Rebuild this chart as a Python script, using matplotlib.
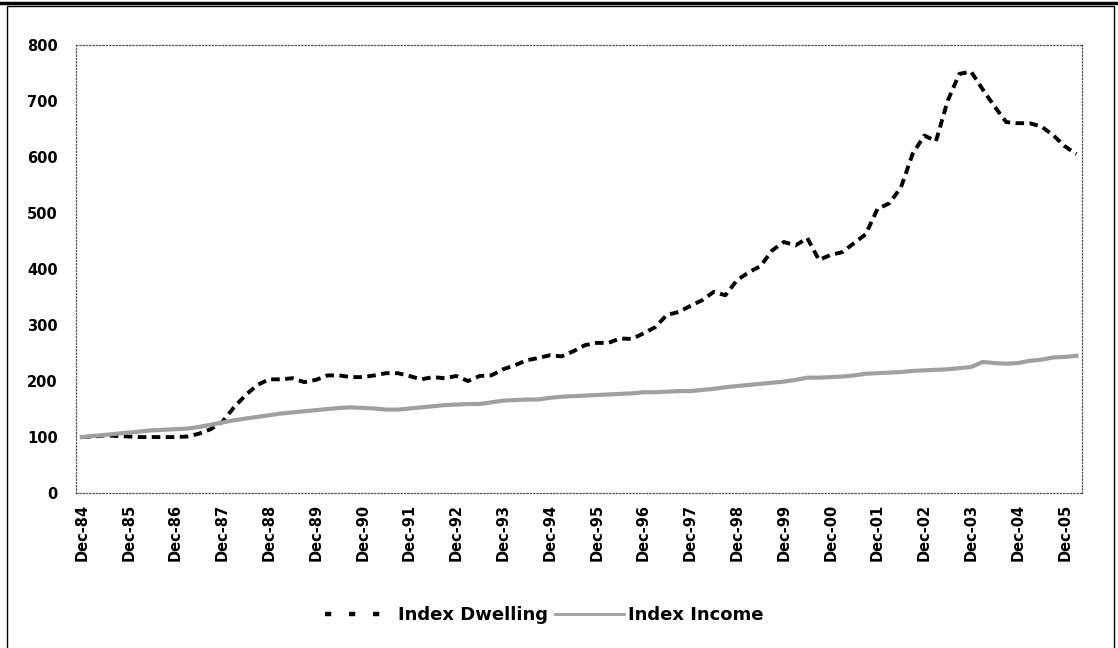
import matplotlib as mpl, numpy as np
import matplotlib.pyplot as plt
import matplotlib.patches as mpatches
from matplotlib.lines import Line2D

# Quarterly index values, Dec-84 = 100
dwelling = [100, 101, 103, 102, 101, 100, 100, 100, 100, 101,
            106, 114, 127, 153, 175, 193, 203, 203, 205, 198,
            202, 210, 210, 207, 207, 210, 214, 214, 209, 203,
            207, 205, 209, 200, 209, 210, 221, 228, 237, 241,
            246, 244, 253, 264, 268, 268, 276, 275, 285, 296,
            318, 323, 334, 344, 359, 353, 380, 394, 405, 433,
            448, 442, 455, 416, 425, 430, 446, 462, 507, 517,
            545, 605, 638, 628, 700, 748, 752, 720, 690, 662,
            660, 660, 654, 639, 619, 605]
income = [100, 102, 104, 106, 108, 110, 112, 113, 114, 115,
          118, 122, 126, 130, 133, 136, 139, 142, 144, 146,
          148, 150, 152, 153, 152, 151, 149, 149, 151, 153,
          155, 157, 158, 159, 159, 162, 165, 166, 167, 167,
          170, 172, 173, 174, 175, 176, 177, 178, 180, 180,
          181, 182, 182, 184, 186, 189, 191, 193, 195, 197,
          199, 202, 206, 206, 207, 208, 210, 213, 214, 215,
          216, 218, 219, 220, 221, 223, 225, 234, 232, 231,
          232, 236, 238, 242, 243, 245]
tick_labels = ['Dec-%02d' % (y % 100) for y in range(84, 106)]

plt.rcParams['font.family'] = 'DejaVu Sans'

fig = plt.figure(figsize=(11.18, 6.48), dpi=100)
ax = fig.add_axes([0.068, 0.239, 0.900, 0.692])

x = np.arange(len(dwelling))
ax.plot(x, dwelling, color='black', lw=2.8, linestyle=(0, (2.2, 1.4)),
        label='Index Dwelling')
ax.plot(x, income, color='#a0a0a0', lw=3.0, label='Index Income')

ax.set_xlim(-0.5, len(dwelling) - 0.5)
ax.set_ylim(0, 800)
ax.set_yticks(range(0, 801, 100))
ax.set_xticks(np.arange(0, len(dwelling), 4))
ax.set_xticklabels(tick_labels, rotation=90)
ax.tick_params(axis='y', length=0, pad=13, labelsize=10.5)
ax.tick_params(axis='x', length=0, pad=8, labelsize=10.5)
for lab in ax.get_xticklabels() + ax.get_yticklabels():
    lab.set_fontweight('bold')
for s in ax.spines.values():
    s.set_linestyle(':')
    s.set_linewidth(0.9)
    s.set_color('#555555')

leg = fig.legend(handles=[Line2D([], [], color='black', lw=3.2, linestyle=(0, (1.4, 4.0))),
                          Line2D([], [], color='#a0a0a0', lw=2.0)],
                 labels=['Index Dwelling', 'Index Income'],
                 loc='center', bbox_to_anchor=(0.487, 0.051), ncol=2, frameon=False,
                 handlelength=3.8, handletextpad=0.25, columnspacing=0.4,
                 prop={'weight': 'bold', 'size': 13})

# outer chart frame
fig.patches.append(mpatches.Rectangle((0.006, -0.01), 0.99, 1.0, transform=fig.transFigure,
                                      fill=False, edgecolor='black', lw=1.0))
fig.add_artist(Line2D([0.0, 1.0], [0.995, 0.995], transform=fig.transFigure,
                      color='black', lw=2.5))

plt.savefig('out.png', dpi=100)
